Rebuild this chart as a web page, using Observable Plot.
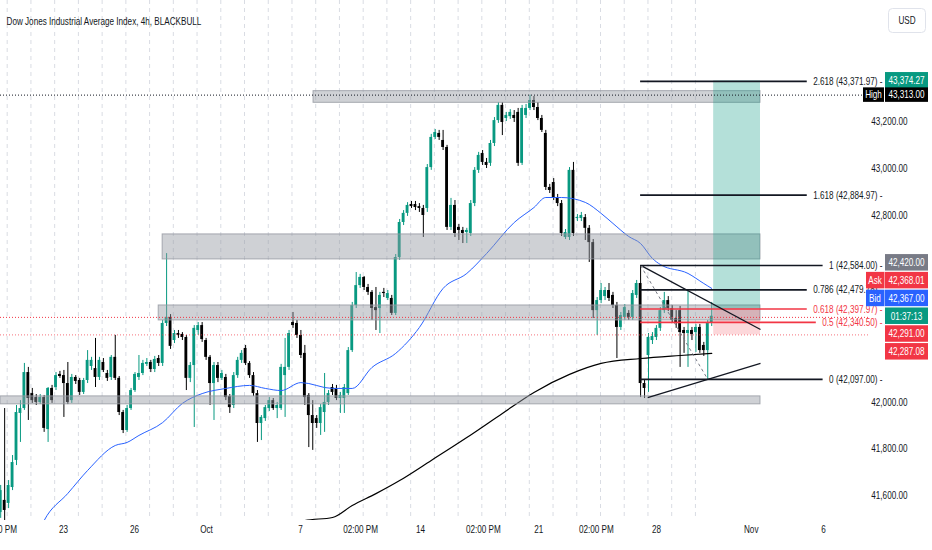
<!DOCTYPE html>
<html><head><meta charset="utf-8">
<script src="https://cdn.jsdelivr.net/npm/d3@7"></script>
<script src="https://cdn.jsdelivr.net/npm/@observablehq/plot@0.6"></script>
<style>
html,body{margin:0;padding:0;background:#fff;}
#chart{width:932px;height:550px;overflow:hidden;position:relative;}
</style></head><body><div id="chart"></div>
<script>
const title = "Dow Jones Industrial Average Index, 4h, BLACKBULL";
// 4h candles, [open, high, low, close]
const candles = [
[41527,41643,41502,41621],[41579,41972,41493,41536],[41566,41664,41544,41643],[41634,41771,41621,41741],
[41750,41985,41728,41955],[41951,42006,41827,41972],[41972,42165,41964,42126],[42126,42148,41921,42015],
[42036,42058,41994,42006],[42019,42032,41985,41998],[41998,42032,41989,42019],[42019,42028,41870,41887],
[41882,42062,41827,42058],[42058,42071,41994,42006],[42062,42126,42049,42113],[42118,42131,42101,42109],
[42113,42135,41934,42079],[42079,42169,41989,41998],[42006,42118,41994,42105],[42105,42113,42075,42088],
[42092,42101,42028,42041],[42041,42101,42032,42092],[42092,42220,42079,42178],[42152,42191,42135,42178],
[42143,42272,42062,42105],[42105,42191,42092,42178],[42169,42186,42126,42135],[42122,42135,42088,42101],
[42105,42199,42092,42191],[42191,42285,42092,42101],[42101,42109,41942,41955],[41955,41964,41865,41878],
[41878,41985,41870,41972],[41972,42058,41964,42049],[42049,42126,42041,42118],[42105,42199,42092,42122],
[42122,42178,42113,42165],[42161,42186,42152,42169],[42169,42178,42126,42139],[42139,42195,42126,42182],
[42186,42199,42152,42165],[42165,42349,42152,42336],[42336,42635,42323,42362],[42362,42374,42225,42238],
[42263,42306,42250,42293],[42293,42306,42272,42285],[42289,42297,42263,42276],[42276,42285,42049,42101],
[42101,42169,42083,42156],[42156,42327,41891,42315],[42306,42340,42285,42327],[42327,42340,42255,42267],
[42263,42272,42178,42191],[42191,42199,41985,42079],[42079,42169,41921,42156],[42156,42169,42083,42101],
[42101,42135,42092,42122],[42105,42118,42006,42019],[42023,42032,41951,41976],[41985,42126,41972,42113],
[42113,42191,42101,42178],[42178,42220,42165,42208],[42229,42242,42156,42165],[42165,42173,42101,42113],
[42113,42126,42023,42036],[42036,42049,41827,41908],[41908,41942,41835,41934],[41929,41985,41917,41976],
[41972,42019,41959,42006],[42006,42015,41964,41972],[41972,41998,41929,41985],[41972,42161,41964,42148],
[42113,42272,41934,42148],[42148,42306,42135,42293],[42340,42383,42315,42327],[42336,42349,42272,42285],
[42285,42306,42186,42199],[42208,42242,41985,42019],[42028,42036,41805,41942],[41942,42006,41793,41908],
[41929,41942,41887,41908],[41908,41989,41857,41976],[41955,42122,41870,41998],[41998,42049,41985,42036],
[42062,42075,42028,42041],[42058,42071,42006,42015],[42015,42041,41951,42028],[42015,42075,41951,42062],
[42036,42233,42028,42220],[42220,42426,42212,42413],[42413,42554,42400,42498],[42498,42546,42486,42533],
[42533,42537,42477,42490],[42490,42503,42456,42469],[42469,42477,42349,42400],[42404,42490,42306,42391],
[42400,42469,42293,42456],[42469,42486,42447,42464],[42443,42477,42434,42464],[42443,42456,42370,42379],
[42379,42631,42370,42618],[42618,42781,42606,42768],[42768,42819,42755,42807],[42807,42853,42794,42841],
[42845,42858,42828,42836],[42845,42858,42819,42832],[42836,42849,42811,42828],[42828,42841,42704,42798],
[42828,43016,42811,43003],[43003,43145,42991,43132],[43132,43166,43123,43153],[43149,43162,43119,43132],
[43119,43162,43076,43089],[43089,43098,42734,42747],[42747,42871,42734,42841],[42841,42862,42704,42721],
[42747,42760,42691,42734],[42734,42747,42678,42721],[42725,42743,42678,42734],[42721,42862,42708,42849],
[42849,43003,42836,42991],[42991,43068,42978,43055],[43063,43076,43012,43025],[43025,43042,42999,43012],
[43021,43119,43008,43106],[43106,43217,43093,43204],[43204,43281,43192,43269],[43269,43281,43140,43196],
[43213,43239,43200,43226],[43221,43251,43209,43239],[43226,43247,43196,43213],[43239,43256,43008,43021],
[43021,43269,43012,43256],[43226,43273,43213,43256],[43256,43313,43247,43290],[43290,43307,43247,43260],
[43260,43281,43204,43213],[43213,43226,43153,43162],[43149,43162,42905,42918],[42918,42931,42892,42905],
[42939,42956,42862,42875],[42875,42888,42836,42849],[42849,42862,42708,42721],[42704,42738,42695,42725],
[42704,43003,42691,42991],[42991,43025,42708,42721],[42785,42802,42772,42789],[42785,42811,42772,42798],
[42789,42802,42691,42743],[42743,42755,42597,42682],[42682,42695,42357,42391],[42391,42447,42285,42434],
[42434,42507,42421,42477],[42451,42490,42434,42477],[42477,42507,42430,42443],[42456,42469,42400,42413],
[42413,42426,42186,42319],[42319,42383,42306,42370],[42362,42417,42349,42404],[42379,42391,42349,42362],
[42362,42477,42349,42464],[42456,42520,42443,42507],[42507,42584,42019,42079],[42079,42092,42015,42058],
[42199,42293,42041,42276],[42263,42297,42246,42280],[42276,42327,42263,42315],[42315,42404,42302,42391],
[42391,42469,42379,42434],[42434,42451,42387,42400],[42400,42413,42336,42349],[42357,42391,42315,42340],
[42391,42409,42148,42297],[42306,42319,42208,42293],[42293,42477,42148,42306],[42306,42319,42263,42289],
[42297,42332,42212,42319],[42319,42332,42208,42220],[42242,42255,42195,42220],[42220,42349,42097,42336],
[42336,42426,42323,42367]
];

// moving averages, read at bar indices
const blueMaIdx = [9,11,17,22,29,32,35,41,46,51,57,63,67,71,76,84,89,94,100,106,112,118,123,130,135,138,142,148,152,155,159,162,165,167,174,178,180];
const blueMaVal = [41420,41493,41609,41707,41814,41827,41857,41912,41994,42036,42058,42071,42058,42049,42083,42058,42058,42148,42208,42319,42486,42550,42635,42768,42832,42875,42875,42854,42807,42764,42708,42678,42614,42588,42550,42507,42486];
const blackMaIdx = [75,77,84,89,95,101,109,118,127,135,144,152,162,172,180];
const blackMaVal = [41440,41493,41506,41557,41608,41664,41750,41848,41951,42041,42118,42165,42186,42199,42208];

// time axis labels, positioned at bar index
const xLabelText = ["02:00 PM","23","26","Oct","7","02:00 PM","14","02:00 PM","21","02:00 PM","28","Nov","6"];
const xLabelIdx  = [-0.3,15.9,33.9,52.1,75.9,91.1,106.3,122.2,136.2,150.8,166,190,208.3];

const priceTicks = [43200,43000,42800,42000,41800,41600];

// horizontal grey zones
const zoneStart = [79.2,41,40,-0.05];
const zoneEnd   = [192.35,192.35,192.35,192.35];
const zoneLow   = [43280,42610,42349,41990];
const zoneHigh  = [43330,42717,42413,42024];

// fib retracement
const fibLevels = [2.618,1.618,1,0.786,0.618,0.5,0];
const fibPrices = [43371.97,42884.97,42584.00,42479.78,42397.97,42340.50,42097.00];
const fibColors = ["#131722","#131722","#131722","#131722","#f23645","#f23645","#131722"];
const fibStartIdx = 162;
const fibTrend = [[162,42584],[179,42097]];

// triangle lines
const triStart = [[162.5,42580],[163.8,42019]];
const triEnd   = [[192.35,42310],[192.35,42165]];

// long position
const lpStart = 180.5, lpEnd = 192.35;
const lpEntry = 42397.97, lpTarget = 43374.27, lpStop = 42287.08;

// price scale labels
const highPrice = 43313.00;
const lastPrice = 42362.00;
const bidPrice = 42367.00;
const stackValues = [42420.00, 42368.01, 42367.00, null, 42291.00, 42287.08];
const stackTags   = [null, "Ask", "Bid", null, null, null];
const stackColors = ["#787b86","#f23645","#2962ff","#089981","#f23645","#f23645"];
const countdown = "01:37:13";

const UP = "#089981", DN = "#000000";
const W = 932, H = 550, MR = 62, MB = 30;
const XD = [-0.0506, 220.2];
const YD = [41493, 43717.8];
const FONT = '"Liberation Sans", Arial, sans-serif';
const COMP = 0.74;
const fmt2 = d3.format(",.2f");
const pxToK = px => XD[0] + px / (W - MR) * (XD[1] - XD[0]);
const ctx = document.createElement("canvas").getContext("2d");
ctx.font = `11px ${FONT}`;
const tw = s => ctx.measureText(s).width * COMP;

const bars = candles.map(([o,h,l,c],i) => {
  const bl = Math.min(o,c);
  const bh = Math.max(o,c,bl+4.5);
  return {i,o,h,l,c,bl,bh,up:c>=o};
});
const blue = blueMaIdx.map((k,i)=>({k,v:blueMaVal[i]}));
const black = blackMaIdx.map((k,i)=>({k,v:blackMaVal[i]}));
const xlabels = xLabelIdx.map((k,i)=>({k,t:xLabelText[i]}));
const zones = zoneStart.map((s,i)=>({s,e:zoneEnd[i],lo:zoneLow[i],hi:zoneHigh[i]}));
const fibs = fibLevels.map((lv,i)=>{
  const label = `${lv} (${fmt2(fibPrices[i])}) -`;
  return {p:fibPrices[i], label, color:fibColors[i], endK: pxToK(882 - tw(label) - 6)};
});
const tri = triStart.map((a,i)=>({x1:a[0],y1:a[1],x2:triEnd[i][0],y2:triEnd[i][1]}));
const gridK = d3.range(30).map(j => 1.646 + 6.008*j);

const plot = Plot.plot({
  width: W, height: H, marginLeft: 0, marginRight: MR, marginTop: 0, marginBottom: MB,
  x: {domain: XD, axis: null},
  y: {domain: YD, axis: null},
  color: {type: "identity"},
  style: {fontFamily: FONT, fontSize: "11px", color: "#131722", background: "#fff"},
  marks: [
    Plot.ruleX(gridK, {stroke: "#d9dce3", strokeDasharray: "4,4", strokeWidth: 1}),
    Plot.ruleX(bars, {x: "i", y1: "l", y2: "h", stroke: d => d.up ? UP : DN, strokeWidth: 1, clip: true}),
    Plot.rect(bars, {x1: d => d.i - 0.36, x2: d => d.i + 0.36, y1: "bl", y2: "bh", fill: d => d.up ? UP : DN, clip: true}),
    Plot.line(blue, {x: "k", y: "v", stroke: "#2962ff", strokeWidth: 1, curve: "monotone-x", clip: true}),
    Plot.line(black, {x: "k", y: "v", stroke: "#000", strokeWidth: 1.2, curve: "monotone-x", clip: true}),
    Plot.rect(zones, {x1: "s", x2: "e", y1: "lo", y2: "hi", fill: "#9598a1", fillOpacity: 0.45, stroke: "#9598a1", strokeOpacity: 0.8}),
    Plot.rect([0], {x1: lpStart, x2: lpEnd, y1: lpEntry, y2: lpTarget, fill: "#089981", fillOpacity: 0.3}),
    Plot.rect([0], {x1: lpStart, x2: lpEnd, y1: lpStop, y2: lpEntry, fill: "#f23645", fillOpacity: 0.2}),
    Plot.ruleY([highPrice], {x1: XD[0], x2: pxToK(863), stroke: "#131722", strokeDasharray: "1,2", strokeWidth: 1}),
    Plot.ruleY([lastPrice], {stroke: "#f23645", strokeDasharray: "1,2", strokeWidth: 1}),
    Plot.ruleY([lpStop], {stroke: "#f23645", strokeDasharray: "1,2", strokeWidth: 1, strokeOpacity: 0.7}),
    Plot.link([0], {x1: fibTrend[0][0], y1: fibTrend[0][1], x2: fibTrend[1][0], y2: fibTrend[1][1], stroke: "#787b86", strokeDasharray: "3,3", strokeWidth: 1}),
    Plot.ruleY(fibs, {y: "p", x1: fibStartIdx, x2: "endK", stroke: "color", strokeWidth: 1.6}),
    Plot.link(tri, {x1: "x1", y1: "y1", x2: "x2", y2: "y2", stroke: "#131722", strokeWidth: 1.3}),
    Plot.text(fibs, {y: "p", text: "label", fill: "color", frameAnchor: "right", dx: 12, textAnchor: "end"}),
    Plot.text(priceTicks, {y: d => d, text: d => fmt2(d), frameAnchor: "right", dx: 37, fill: "#131722"}),
    Plot.text(xlabels, {x: "k", text: "t", frameAnchor: "bottom", dy: 12, fill: "#131722"}),
    Plot.text([title], {text: d => d, frameAnchor: "top-left", dx: 6, dy: 17, textAnchor: "start", fill: "#131722", fontSize: 11})
  ]
});
document.getElementById("chart").append(plot);

const ys = plot.scale("y");
const svg = d3.select(plot);
const g = svg.append("g");
function box(x, yc, w, h, fill) {
  g.append("rect").attr("x", x).attr("y", yc - h/2).attr("width", w).attr("height", h).attr("fill", fill);
}
function label(x, yc, s, fill) {
  g.append("text").attr("x", x).attr("y", yc).attr("dy", "0.35em").attr("text-anchor", "middle")
   .attr("fill", fill).attr("font-family", FONT).attr("font-size", 11).text(s);
}
const BX = 885, BW = 43, BH = 16.5;
let yc = ys.apply(lpTarget);
box(BX, yc, BW, BH, "#089981"); label(BX + BW/2, yc, fmt2(lpTarget), "#fff");
yc = ys.apply(highPrice);
box(863, yc, 21, BH - 2, "#000"); label(873.5, yc, "High", "#fff");
box(BX, yc, BW, BH - 2, "#000"); label(BX + BW/2, yc, fmt2(highPrice), "#fff");
const anchorY = ys.apply(bidPrice);
stackValues.forEach((v, i) => {
  const y = anchorY + (i - 3) * 17.8;
  box(BX, y, BW, BH, stackColors[i]);
  label(BX + BW/2, y, v === null ? countdown : fmt2(v), "#fff");
  if (stackTags[i]) { box(866, y, 18.5, BH, stackColors[i]); label(875, y, stackTags[i], "#fff"); }
});
g.append("rect").attr("x", 888.5).attr("y", 8.5).attr("width", 37).attr("height", 24).attr("rx", 4)
 .attr("fill", "#fff").attr("stroke", "#e0e3eb");
label(907, 20.5, "USD", "#131722");

svg.selectAll("text").each(function() {
  const L = this.getComputedTextLength();
  if (L > 0) { this.setAttribute("textLength", (L * COMP).toFixed(2)); this.setAttribute("lengthAdjust", "spacingAndGlyphs"); }
});
</script></body></html>
